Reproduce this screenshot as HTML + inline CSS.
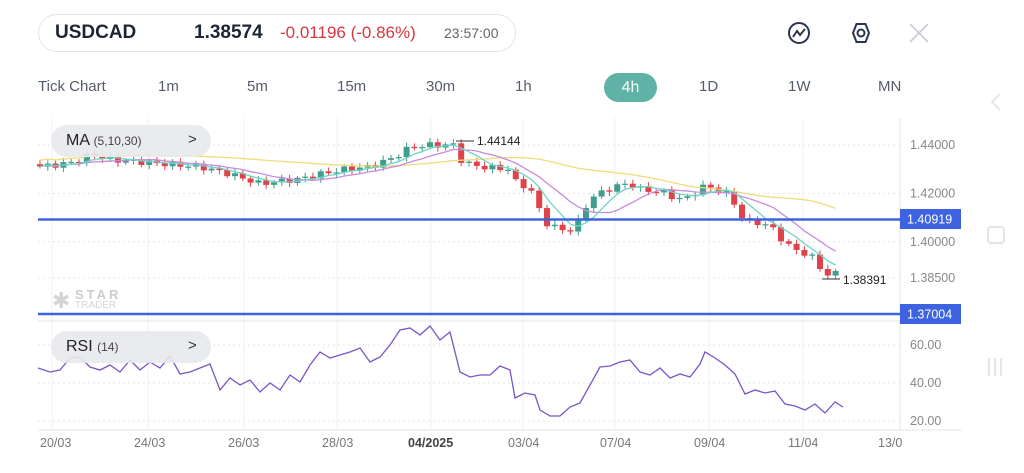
<!DOCTYPE html>
<html><head><meta charset="utf-8"><style>
body{margin:0;width:1024px;height:473px;background:#fff;font-family:"Liberation Sans",sans-serif;overflow:hidden;position:relative}
.a{position:absolute;white-space:nowrap}
.tf{position:absolute;top:78px;font-size:15px;color:#555c6a}
</style></head><body>
<div class="a" style="left:38px;top:14px;width:476px;height:36px;border:1px solid #e3e5e8;border-radius:19px"></div>
<div class="a" style="left:55px;top:22px;font-size:19px;font-weight:bold;color:#1d2433">USDCAD</div>
<div class="a" style="left:194px;top:22px;font-size:19px;font-weight:bold;color:#1d2433">1.38574</div>
<div class="a" style="left:280px;top:23px;font-size:17px;color:#d9363e">-0.01196 (-0.86%)</div>
<div class="a" style="left:444px;top:25px;font-size:14px;color:#666">23:57:00</div>
<svg class="a" style="left:0;top:0" width="1024" height="473">
<circle cx="799" cy="33" r="10" fill="none" stroke="#2a3550" stroke-width="2"/>
<polyline points="793,37 797,31 800,35 805,29" fill="none" stroke="#2a3550" stroke-width="2"/>
<polygon points="853,33 856.5,24 865.5,24 869,33 865.5,42 856.5,42" fill="none" stroke="#2a3550" stroke-width="2"/>
<circle cx="861" cy="33" r="3.5" fill="none" stroke="#2a3550" stroke-width="2"/>
<path d="M910 24L928 42M928 24L910 42" stroke="#c9ccd2" stroke-width="1.6"/>
<path d="M1000 94L992 102L1000 110" fill="none" stroke="#e5e6e8" stroke-width="2"/>
<rect x="988" y="227" width="16" height="16" rx="3" fill="none" stroke="#e5e6e8" stroke-width="2"/>
<path d="M989 358v18M995 358v18M1001 358v18" stroke="#e5e6e8" stroke-width="2"/>
</svg>
<div class="tf" style="left:38px">Tick Chart</div>
<div class="tf" style="left:158px">1m</div>
<div class="tf" style="left:247px">5m</div>
<div class="tf" style="left:337px">15m</div>
<div class="tf" style="left:426px">30m</div>
<div class="tf" style="left:515px">1h</div>
<div class="a" style="left:604px;top:73px;width:53px;height:29px;border-radius:15px;background:#5eb3a6;color:#fff;font-size:16px;text-align:center;line-height:29px">4h</div>
<div class="tf" style="left:699px">1D</div>
<div class="tf" style="left:788px">1W</div>
<div class="tf" style="left:878px">MN</div>
<svg id="c" class="a" style="left:0;top:0" width="1024" height="473"></svg>
<div class="a" style="left:51px;top:125px;width:160px;height:32px;border-radius:16px;background:rgba(232,233,236,0.9)"></div>
<div class="a" style="left:66px;top:132px;font-size:16px;color:#222">MA <span style="font-size:12px;color:#444">(5,10,30)</span></div>
<div class="a" style="left:188px;top:131px;font-size:15px;color:#333">&gt;</div>
<div class="a" style="left:51px;top:331px;width:160px;height:32px;border-radius:16px;background:rgba(232,233,236,0.9)"></div>
<div class="a" style="left:66px;top:338px;font-size:16px;color:#222">RSI <span style="font-size:12px;color:#444">(14)</span></div>
<div class="a" style="left:188px;top:337px;font-size:15px;color:#333">&gt;</div>
<div class="a" style="left:75px;top:287px;font-size:13px;font-weight:bold;letter-spacing:3px;color:#ccc">STAR</div>
<div class="a" style="left:75px;top:300px;font-size:10px;color:#d5d5d5">TRADER</div>
<div class="a" style="left:52px;top:288px;font-size:22px;color:#d5d5d5">✱</div>
<script>
var s=document.getElementById('c'),h='';
function Y(p){return 145+(1.44-p)*2420}
function R(v){return 345+(60-v)*1.9}
// grid
[1.44,1.42,1.40,1.385].forEach(function(p){h+='<line x1="38" x2="900" y1="'+Y(p)+'" y2="'+Y(p)+'" stroke="#e6e6e6" stroke-dasharray="2,3"/>'});
[60,40,20].forEach(function(v){h+='<line x1="38" x2="900" y1="'+R(v)+'" y2="'+R(v)+'" stroke="#e6e6e6" stroke-dasharray="2,3"/>'});
[52,148,244,337,431,523,615,709,803].forEach(function(x){h+='<line x1="'+x+'" x2="'+x+'" y1="118" y2="430" stroke="#f0f0f0"/>'});
h+='<line x1="900" x2="900" y1="118" y2="430" stroke="#e6e6e6"/><line x1="38" x2="962" y1="321" y2="321" stroke="#e6e6e6"/><line x1="38" x2="962" y1="430" y2="430" stroke="#e6e6e6"/>';
var kp=[[38,1.431],[60,1.432],[75,1.433],[90,1.436],[110,1.434],[140,1.433],[170,1.432],[200,1.431],[230,1.428],[260,1.424],[280,1.425],[300,1.426],[320,1.428],[345,1.430],[370,1.431],[395,1.435],[410,1.439],[430,1.440],[455,1.440],[462,1.433],[480,1.431],[510,1.430],[515,1.425],[530,1.422],[545,1.408],[560,1.405],[575,1.405],[580,1.410],[590,1.418],[600,1.420],[615,1.423],[630,1.424],[645,1.421],[660,1.421],[675,1.418],[690,1.418],[700,1.423],[715,1.422],[730,1.419],[745,1.408],[760,1.408],[775,1.405],[785,1.399],[800,1.396],[815,1.393],[825,1.386],[835,1.387],[843,1.386]];
function P(x){for(var i=1;i<kp.length;i++)if(x<=kp[i][0]){var a=kp[i-1],b=kp[i];return a[1]+(b[1]-a[1])*(x-a[0])/(b[0]-a[0])}return kp[kp.length-1][1]}
var xs=[],cl=[],n=0;for(var x=40;x<=843;x+=7.8){xs.push(x);cl.push(P(x)+Math.sin(n*2.3)*0.0012);n++}
var op=[cl[0]+0.001];for(var i=1;i<cl.length;i++)op.push(cl[i-1]);
function ma(k){var r=[];for(var i=0;i<cl.length;i++){var a=0,c=0;for(var j=Math.max(0,i-k+1);j<=i;j++){a+=cl[j];c++}r.push(xs[i]+','+Y(a/c+(k==30?0.0025:0)))}return r.join(' ')}
for(var i=0;i<cl.length;i++){var o=op[i],c=cl[i],up=c>=o,col=up?'#3f9e8c':'#e0424a',t=Y(Math.max(o,c)),b=Y(Math.min(o,c)),hi=Math.max(o,c)+0.0008+Math.abs(Math.cos(i))*0.001,lo=Math.min(o,c)-0.0008-Math.abs(Math.sin(i*1.7))*0.001;
h+='<line x1="'+xs[i]+'" x2="'+xs[i]+'" y1="'+Y(hi)+'" y2="'+Y(lo)+'" stroke="'+col+'"/><rect x="'+(xs[i]-3)+'" y="'+t+'" width="6" height="'+Math.max(1.2,b-t)+'" fill="'+col+'"/>'}
h+='<polyline points="'+ma(30)+'" fill="none" stroke="#f0dc7a" stroke-width="1.3"/>';
h+='<polyline points="'+ma(10)+'" fill="none" stroke="#c98ae0" stroke-width="1.3"/>';
h+='<polyline points="'+ma(5)+'" fill="none" stroke="#6fd5c6" stroke-width="1.3"/>';
h+='<line x1="38" x2="900" y1="219.5" y2="219.5" stroke="#3d63e0" stroke-width="2.5"/><line x1="38" x2="900" y1="314" y2="314" stroke="#3d63e0" stroke-width="2.5"/>';
h+='<rect x="900" y="209" width="61" height="20" fill="#3d63e0"/><text x="907" y="223.5" font-size="12.5" fill="#fff">1.40919</text>';
h+='<rect x="900" y="304" width="61" height="20" fill="#3d63e0"/><text x="907" y="318.5" font-size="12.5" fill="#fff">1.37004</text>';
[['1.44000',1.44],['1.42000',1.42],['1.40000',1.40],['1.38500',1.385]].forEach(function(a){h+='<text x="910" y="'+(Y(a[1])+4)+'" font-size="12.5" fill="#888">'+a[0]+'</text>'});
[['60.00',60],['40.00',40],['20.00',20]].forEach(function(a){h+='<text x="910" y="'+(R(a[1])+4)+'" font-size="12.5" fill="#888">'+a[0]+'</text>'});
h+='<line x1="456" x2="474" y1="141" y2="141" stroke="#333"/><text x="477" y="145" font-size="12" fill="#222">1.44144</text>';
h+='<line x1="822" x2="840" y1="279" y2="279" stroke="#333"/><text x="843" y="284" font-size="12" fill="#222">1.38391</text>';
var rp="38,368 50,372 60,370 70,358 80,357 90,367 100,370 110,365 120,372 130,360 140,370 150,362 160,368 170,356 180,374 190,372 200,368 210,364 220,390 230,378 240,385 250,380 260,392 270,383 280,390 290,375 300,382 310,365 320,352 330,358 340,355 350,352 360,348 370,362 380,357 390,345 400,330 410,328 420,335 430,326 440,340 450,332 460,372 470,377 480,375 490,375 500,366 510,370 515,398 525,393 535,395 540,410 550,416 560,416 570,407 580,403 590,385 600,367 610,366 620,362 630,360 640,372 650,375 660,368 670,378 680,374 690,377 700,364 705,352 715,358 725,365 735,374 745,394 755,390 765,393 775,391 785,404 795,406 805,410 815,404 825,413 835,402 843,407";
h+='<polyline points="'+rp+'" fill="none" stroke="#7a55c8" stroke-width="1.3"/>';
[['20/03',40],['24/03',134],['26/03',228],['28/03',322],['03/04',508],['07/04',600],['09/04',694],['11/04',788],['13/0',878]].forEach(function(a){h+='<text x="'+a[1]+'" y="447" font-size="12.5" fill="#777">'+a[0]+'</text>'});
h+='<text x="408" y="447" font-size="12.5" font-weight="bold" fill="#444">04/2025</text>';
s.innerHTML=h;
</script>
</body></html>
